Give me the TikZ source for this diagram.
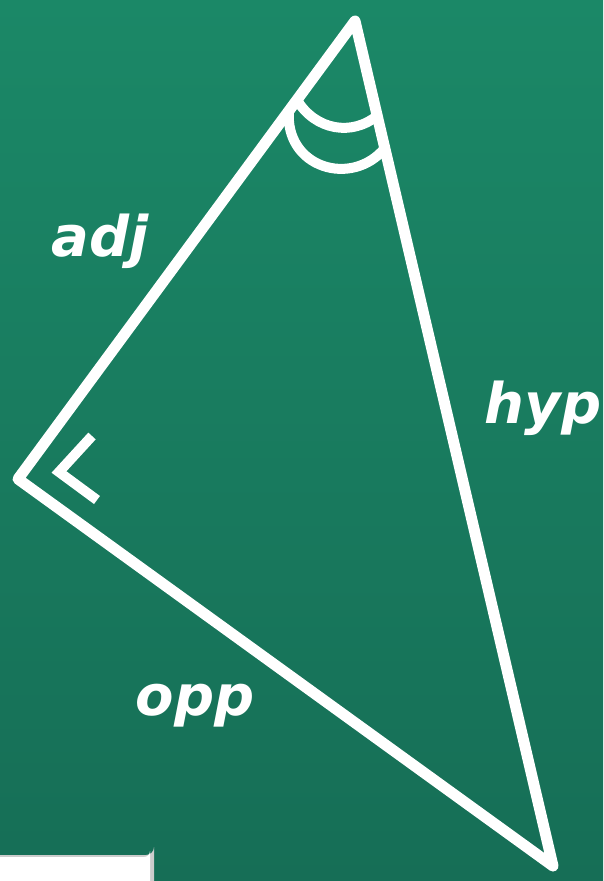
\documentclass[tikz,border=0pt]{standalone}
\usepackage{fontspec}
\setmainfont{DejaVu Sans}
\definecolor{boardtop}{RGB}{27,136,103}
\definecolor{boardbot}{RGB}{22,110,86}
\begin{document}
\begin{tikzpicture}[x=1pt,y=-1pt,
  chalk/.style={white,line width=11pt,line cap=round,line join=round},
  lbl/.style={white,font=\fontsize{56}{56}\selectfont\bfseries\itshape,anchor=base,inner sep=0pt}]
\useasboundingbox (0,0) rectangle (603,881);
\shade[top color=boardtop,bottom color=boardbot] (0,0) rectangle (603,881);
% bottom-left card
\fill[gray!40] (0,855) -- (146,855) arc[start angle=90,end angle=0,radius=8] -- (154,881) -- (0,881) -- cycle;
\fill[white] (0,857) -- (144,857) arc[start angle=90,end angle=0,radius=6] -- (150,881) -- (0,881) -- cycle;
% vertices
\coordinate (A) at (355,21);
\coordinate (B) at (18,479);
\coordinate (C) at (553,866);
% double angle arcs
\coordinate (i1) at (297,100);
\coordinate (i2) at (378,115);
\coordinate (o1) at (289,110);
\coordinate (o2) at (385,148);
\draw[white,line width=10pt] (i1) .. controls (315,130) and (352,137) .. (i2);
\draw[white,line width=10pt] (o1) .. controls (284,168) and (352,188) .. (o2);
\draw[chalk] (A) -- (B) -- (C) -- cycle;
% right-angle mark
\coordinate (m1) at (92,436);
\coordinate (m0) at (59,472);
\coordinate (m2) at (97,500);
\draw[white,line width=10pt,line join=miter] (m1) -- (m0) -- (m2);
% labels
\node[lbl] (adj) at (100,256) {adj};
\node[lbl] (hyp) at (543,423) {hyp};
\node[lbl] (opp) at (195,715) {opp};
\end{tikzpicture}
\end{document}
